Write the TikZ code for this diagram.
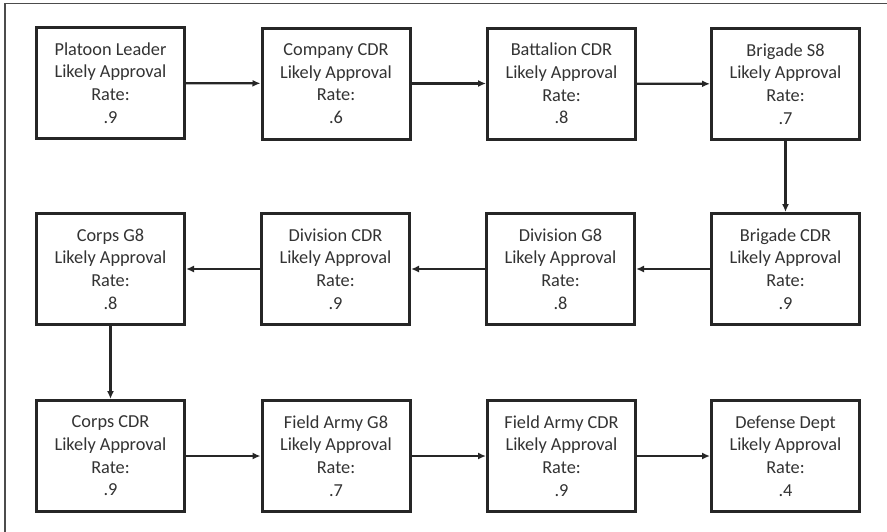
\documentclass[tikz,border=0pt]{standalone}
\usepackage{fontspec}
\setmainfont{Carlito}
\usetikzlibrary{arrows.meta}
\begin{document}
\begin{tikzpicture}[x=1pt,y=-1pt,
  stage/.style={draw=black!85, line width=3pt, minimum width=148pt, minimum height=111pt,
    inner sep=0pt, align=center, text=black!80,
    font=\fontsize{18.3}{22.7}\selectfont},
  flow/.style={draw=black!85, line width=2.3pt, -{Latex[length=8pt,width=7pt]}}]
\useasboundingbox (0,0) rectangle (887,531);
\fill[white] (0,0) rectangle (887,531);
% outer frame (only top and left edges fall inside the page)
\draw[black!70, line width=1.4pt] (5,540) -- (5,3.5) -- (895,3.5);

% first row
\node[stage] (pl)  at (110.5,83)  {Platoon Leader\\Likely Approval\\Rate:\\.9};
\node[stage] (coy) at (336,83.5)  {Company CDR\\Likely Approval\\Rate:\\.6};
\node[stage] (bn)  at (561.5,83.5){Battalion CDR\\Likely Approval\\Rate:\\.8};
\node[stage] (bs8) at (785.5,84)  {Brigade S8\\Likely Approval\\Rate:\\.7};
% second row
\node[stage] (bcdr) at (785.5,269){Brigade CDR\\Likely Approval\\Rate:\\.9};
\node[stage] (dg8)  at (560.5,269){Division G8\\Likely Approval\\Rate:\\.8};
\node[stage] (dcdr) at (335.5,269){Division CDR\\Likely Approval\\Rate:\\.9};
\node[stage] (cg8)  at (110.5,269){Corps G8\\Likely Approval\\Rate:\\.8};
% third row
\node[stage] (ccdr) at (110.5,456){Corps CDR\\Likely Approval\\Rate:\\.9};
\node[stage] (fag8) at (336,456)  {Field Army G8\\Likely Approval\\Rate:\\.7};
\node[stage] (facdr)at (561.5,456){Field Army CDR\\Likely Approval\\Rate:\\.9};
\node[stage] (dd)   at (785.5,456){Defense Dept\\Likely Approval\\Rate:\\.4};

% approval chain
\draw[flow] (pl) -- (coy);
\draw[flow] (coy) -- (bn);
\draw[flow] (bn) -- (bs8);
\draw[flow] (bs8) -- (bcdr);
\draw[flow] (bcdr) -- (dg8);
\draw[flow] (dg8) -- (dcdr);
\draw[flow] (dcdr) -- (cg8);
\draw[flow] (cg8) -- (ccdr);
\draw[flow] (ccdr) -- (fag8);
\draw[flow] (fag8) -- (facdr);
\draw[flow] (facdr) -- (dd);
\end{tikzpicture}
\end{document}
